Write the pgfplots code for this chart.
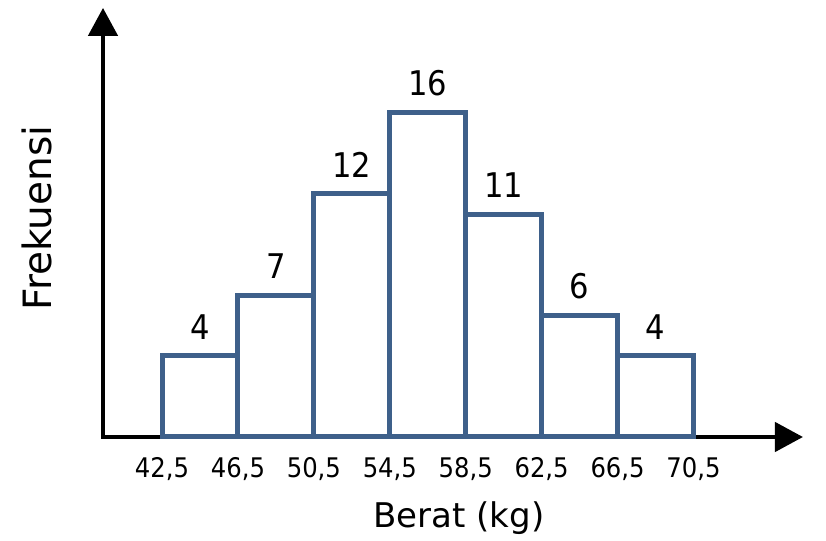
\documentclass[border=0pt]{standalone}
\usepackage{fontspec}
\setmainfont{DejaVu Sans Condensed}
\newfontfamily\dvs{DejaVu Sans}
\usepackage{pgfplots}
\pgfplotsset{compat=1.18}
\usetikzlibrary{arrows.meta}
\definecolor{barblue}{RGB}{62,96,138}
\begin{document}
\begin{tikzpicture}
\begin{axis}[
  at={(103bp,104bp)}, anchor=south west,
  x=18.98bp, y=20.25bp,
  xmin=39.39, xmax=76.27, ymin=0, ymax=21.19,
  set layers, clip=false,
  /pgf/number format/assume math mode=true,
  axis lines=left,
  axis line style={line width=4.5bp, line cap=rect, -{Triangle[length=28bp,width=29bp]}},
  major tick length=0pt,
  xtick={42.5,46.5,50.5,54.5,58.5,62.5,66.5,70.5},
  xticklabels={{42,5},{46,5},{50,5},{54,5},{58,5},{62,5},{66,5},{70,5}},
  ytick=\empty,
  xticklabel style={font=\fontsize{27bp}{30bp}\selectfont, yshift=-17bp},
  xlabel={Berat (kg)},
  ylabel={Frekuensi},
  xlabel style={at={(axis description cs:0.5086,-0.212)}, anchor=base, font=\dvs\fontsize{34bp}{40bp}\selectfont},
  ylabel style={at={(axis description cs:-0.0729,0.5105)}, anchor=base, font=\dvs\fontsize{39bp}{40bp}\selectfont},
  nodes near coords style={text=black, font=\fontsize{34bp}{38bp}\selectfont, yshift=11bp},
]
\addplot[ybar, bar width=4, draw=barblue, fill=white, line width=5bp,
  nodes near coords]
  coordinates {(44.5,4) (48.5,7) (52.5,12) (56.5,16) (60.5,11) (64.5,6) (68.5,4)};
\end{axis}
\pgfresetboundingbox
\useasboundingbox (0,0) rectangle (826bp,541bp);
\end{tikzpicture}
\end{document}
